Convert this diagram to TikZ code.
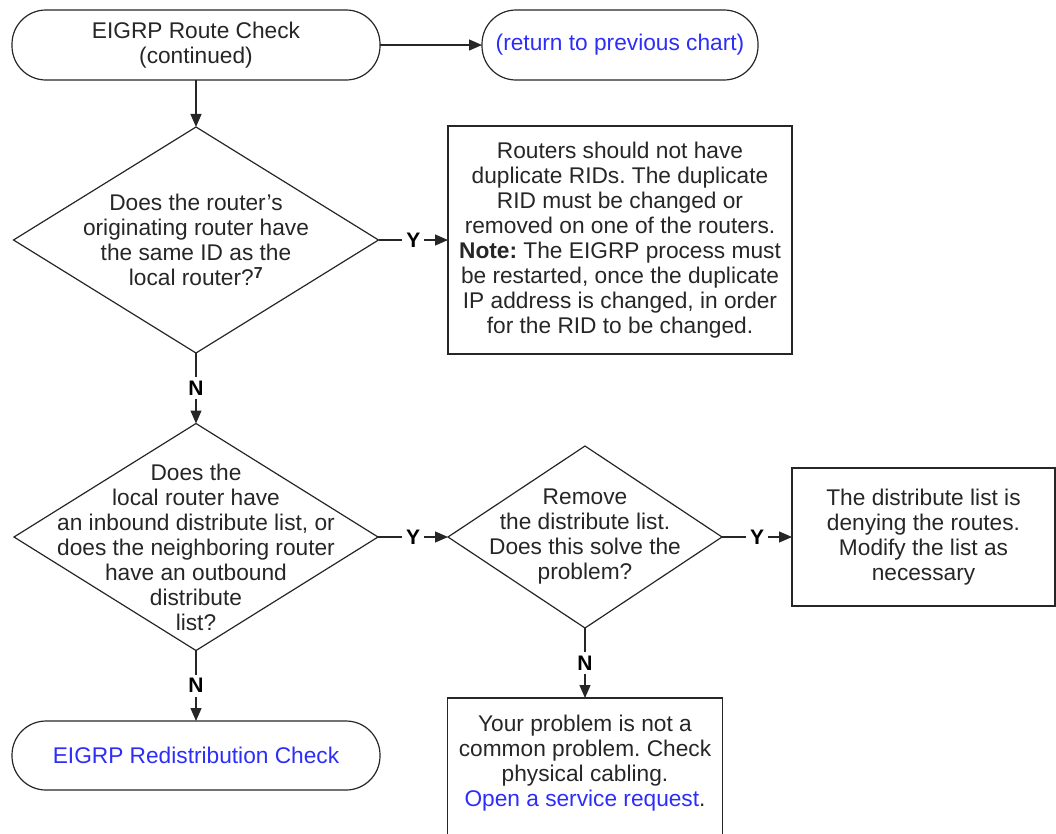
\documentclass[tikz,border=0pt]{standalone}
\usepackage{fontspec}
\setmainfont{Liberation Sans}
\usetikzlibrary{shapes.geometric,arrows.meta}
\definecolor{linkblue}{RGB}{45,45,250}
\frenchspacing

\begin{document}
\begin{tikzpicture}[x=1pt,y=-1pt,
        every node/.style={font=\fontsize{22.7}{25}\selectfont, text=black!85},
        term/.style={draw=black!85, line width=1.2pt, rounded corners=34, minimum width=368, minimum height=70, align=center, outer sep=0},
        ask/.style={draw=black!85, line width=1.2pt, diamond, inner sep=0, outer sep=0},
        rect/.style={draw=black!85, line width=1.2pt, align=center, inner sep=0, outer sep=0},
        flow/.style={draw=black!85, line width=1.2pt, -{Triangle[length=13pt,width=11pt]}},
        yn/.style={fill=white, inner sep=4pt, text=black, font=\fontsize{21}{24}\selectfont\bfseries}]
        \useasboundingbox (0,0) rectangle (1056,833);
        \clip (0,0) rectangle (1056,833);

        \node[term] (0) at (196,45) {EIGRP Route Check\\(continued)};
        \node[term, minimum width=276, text=linkblue] (1) at (620,45) {(return to previous chart)};
        \node[ask, minimum width=365, minimum height=226,
            label={[align=center]center:{Does the router’s\\originating router have\\the same ID as the\\local router?\textsuperscript{\textbf{7}}}}] (2) at (196,240) {};
        \node[rect, minimum width=344, minimum height=228] (3) at (620,240) {Routers should not have\\duplicate RIDs. The duplicate\\RID must be changed or\\removed on one of the routers.\\\textbf{Note:} The EIGRP process must\\be restarted, once the duplicate\\IP address is changed, in order\\for the RID to be changed.};
        \node[ask, minimum width=364, minimum height=227,
            label={[align=center, yshift=-10]center:{Does the\\local router have\\an inbound distribute list, or\\does the neighboring router\\have an outbound\\distribute\\list?}}] (4) at (196,537) {};
        \node[ask, minimum width=274, minimum height=182,
            label={[align=center]center:{Remove\\the distribute list.\\Does this solve the\\problem?}}] (5) at (585,537) {};
        \node[rect, minimum width=263, minimum height=138] (6) at (923.5,537) {The distribute list is\\denying the routes.\\Modify the list as\\necessary};
        \node[rect, minimum width=275, minimum height=170, anchor=north,
            label={[align=center, anchor=north, yshift=-14]north:{Your problem is not a\\common problem. Check\\physical cabling.\\\textcolor{linkblue}{Open a service request}.}}] (7) at (585,698) {};
        \node[term, text=linkblue, minimum height=69] (8) at (196,755.5) {EIGRP Redistribution Check};

        \draw[flow] (0) -- (1);
        \draw[flow] (0) -- (2);
        \draw[flow] (2) -- node[yn] {Y} (3);
        \draw[flow] (2) -- node[yn] {N} (4);
        \draw[flow] (4) -- node[yn] {Y} (5);
        \draw[flow] (5) -- node[yn] {Y} (6);
        \draw[flow] (5) -- node[yn] {N} (7);
        \draw[flow] (4) -- node[yn] {N} (8);
    \end{tikzpicture}
\end{document}
